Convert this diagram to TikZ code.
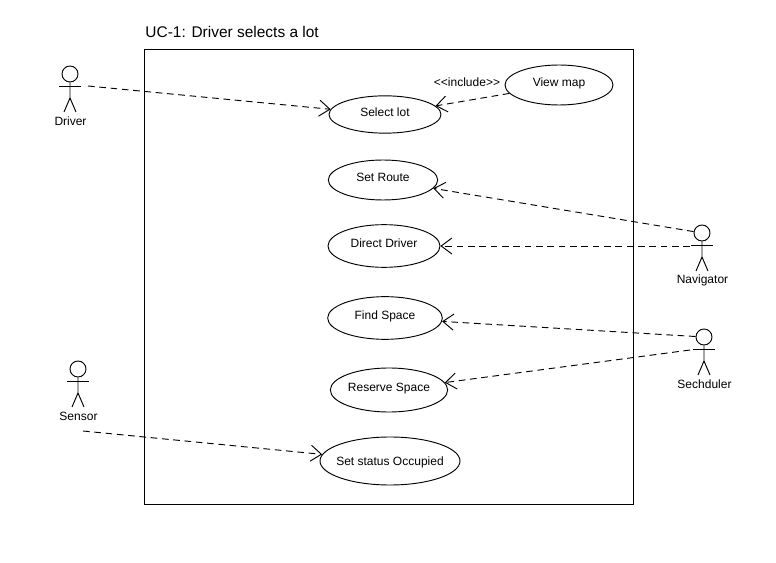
\documentclass[tikz,border=0pt]{standalone}
\usepackage{fontspec}
\setmainfont{Liberation Sans}
\usetikzlibrary{arrows.meta,shapes.geometric}

\tikzset{
    usecase/.style={draw, ellipse, inner sep=0pt, text height=7pt, text depth=5pt, font=\fontsize{9}{11}\selectfont},
    actorhead/.style={draw, circle, inner sep=0pt, minimum size=12pt},
    actorlabel/.style={font=\fontsize{9}{11}\selectfont},
    depends/.style={dashed, dash pattern=on 5pt off 3.5pt, -{Straight Barb[length=8pt,width=12pt]}},
}

\begin{document}
\begin{tikzpicture}[x=0.75pt, y=-0.75pt, line width=0.7pt]
    \useasboundingbox (0,0) rectangle (776,563);

    % System boundary
    \draw (144,49) rectangle (633,504);
    \node[anchor=base west, font=\fontsize{11.6}{14}\selectfont, inner sep=0pt] (title) at (145,38) {UC-1: Driver selects a lot};

    % Use cases
    \node[usecase, text depth=3.4pt, minimum width=84pt, minimum height=28pt] (selectlot) at (385,114.5) {Select lot};
    \node[usecase, minimum width=81pt, minimum height=30pt] (viewmap) at (559,85) {View map};
    \node[usecase, minimum width=82pt, minimum height=30pt] (setroute) at (383,180) {Set Route};
    \node[usecase, minimum width=84pt, minimum height=32pt] (directdriver) at (384,246) {Direct Driver};
    \node[usecase, minimum width=86pt, minimum height=32pt] (findspace) at (385,318) {Find Space};
    \node[usecase, inner xsep=-1pt, minimum width=88pt, minimum height=33pt] (reservespace) at (389,390) {Reserve Space};
    \node[usecase, text depth=1pt, inner xsep=-3.4pt, minimum width=105pt, minimum height=36pt] (setstatus) at (390,461) {Set status Occupied};
    \node[actorlabel] (include) at (467,82) {<{}<include>{}>};

    % Actors
    \foreach \name/\x/\y/\lab in {driver/70/74/Driver, navigator/702/233/Navigator, sechduler/704/337/Sechduler, sensor/78/369/Sensor} {
        \node[actorhead] (\name) at (\x,\y) {};
        \draw (\name.south) -- (\x,\y+24) -- (\x-6,\y+38);
        \draw (\x,\y+24) -- (\x+6,\y+38);
        \draw (\x-11,\y+12.5) -- (\x+11,\y+12.5);
        \node[actorlabel] (\name label) at (\x+0.5,\y+47.5) {\lab};
    }

    % Free ends of the connectors
    \coordinate (driverhand) at (88,86);
    \coordinate (sensorfoot) at (83,431);
    \coordinate (navigatorhand) at (690,246);
    \coordinate (sechdulerhand) at (690,350);

    % Connectors
    \draw[depends] (driverhand) -- (selectlot);
    \draw[depends] (viewmap) -- (selectlot);
    \draw[depends] (navigator) -- (setroute);
    \draw[depends] (navigatorhand) -- (directdriver);
    \draw[depends] (sechduler) -- (findspace);
    \draw[depends] (sechdulerhand) -- (reservespace);
    \draw[depends] (sensorfoot) -- (setstatus);
\end{tikzpicture}
\end{document}
